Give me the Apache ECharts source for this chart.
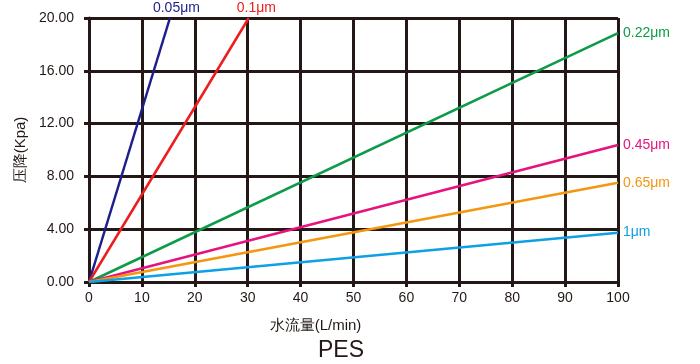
<!DOCTYPE html>
<html><head><meta charset="utf-8">
<script src="https://cdn.jsdelivr.net/npm/echarts@6/dist/echarts.min.js"></script>
<style>html,body{margin:0;padding:0;background:#fff}#c{width:700px;height:364px}</style>
</head><body><div id="c"></div>
<script>
// Data: each membrane line goes from origin to its end point
const seriesNames = ['0.05μm', '0.1μm', '0.22μm', '0.45μm', '0.65μm', '1μm'];
const endFlow = [15.3, 30.2, 100, 100, 100, 100];       // L/min
const endPressure = [20, 20, 18.85, 10.38, 7.52, 3.74]; // Kpa
const colors = ['#1d1f8a', '#ee1c1c', '#0c9b48', '#e6137e', '#f5960f', '#0ea0e4'];
const xTicks = [0, 10, 20, 30, 40, 50, 60, 70, 80, 90, 100];
const yTicks = [0, 4, 8, 12, 16, 20];

const font = 'Arial, "Liberation Sans", sans-serif';
const ink = '#231815';
const labelOffsets = [[-22, -10], [-17, -10], [0, 0], [0, 0], [0, 0], [0, 0]];

const series = seriesNames.map((n, i) => ({
  name: n, type: 'line', symbol: 'none', silent: true,
  lineStyle: { color: colors[i], width: 2.5 },
  endLabel: {
    show: true, formatter: n, color: colors[i], fontSize: 14, fontFamily: font,
    distance: 5, offset: labelOffsets[i]
  },
  data: [[0, 0], [endFlow[i], endPressure[i]]]
}));

const chart = echarts.init(document.getElementById('c'));
chart.setOption({
  animation: false,
  backgroundColor: '#fff',
  title: {
    text: 'PES', left: 313, top: 334,
    textStyle: { fontSize: 23, fontWeight: 'normal', color: ink, fontFamily: font }
  },
  grid: { left: 89, right: 82, top: 18, bottom: 82, containLabel: false },
  xAxis: {
    type: 'value', min: xTicks[0], max: xTicks[xTicks.length - 1], interval: 10,
    name: '水流量(L/min)', nameLocation: 'middle', nameGap: 36,
    nameTextStyle: { fontSize: 15, color: ink, fontFamily: font, padding: [0, 76, 0, 0] },
    axisLine: { show: true, lineStyle: { color: ink, width: 3 } },
    axisTick: { show: true, length: 5, lineStyle: { color: ink, width: 3 } },
    axisLabel: { fontSize: 14, color: ink, fontFamily: font, margin: 9 },
    splitLine: { show: true, lineStyle: { color: ink, width: 3 } }
  },
  yAxis: {
    type: 'value', min: yTicks[0], max: yTicks[yTicks.length - 1], interval: 4,
    name: '压降(Kpa)', nameLocation: 'middle', nameGap: 58, nameRotate: 90,
    nameTextStyle: { fontSize: 15, color: ink, fontFamily: font },
    axisLine: { show: true, lineStyle: { color: ink, width: 3 } },
    axisTick: { show: true, length: 5, lineStyle: { color: ink, width: 3 } },
    axisLabel: { fontSize: 14, color: ink, fontFamily: font, margin: 15,
      formatter: v => v.toFixed(2) },
    splitLine: { show: true, lineStyle: { color: ink, width: 3 } }
  },
  series: series
});
</script></body></html>
